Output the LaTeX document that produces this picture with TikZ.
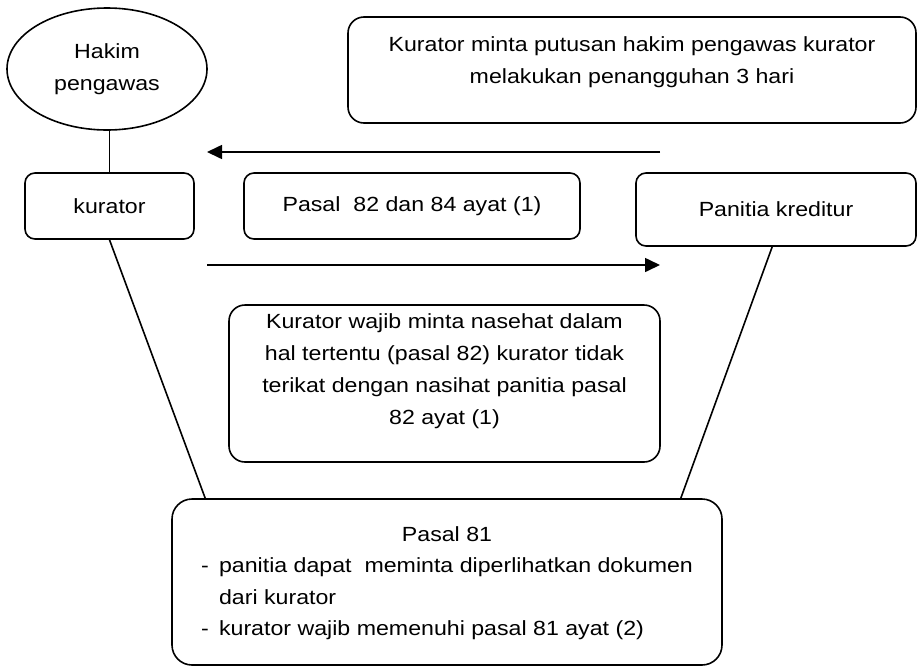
\documentclass[tikz,border=0pt]{standalone}
\usepackage{fontspec}
\setmainfont{Liberation Sans}[FakeStretch=1.13]
\usetikzlibrary{shapes.geometric,arrows.meta,calc}
\begin{document}
\begin{tikzpicture}[x=1pt,y=-1pt, line width=1.6pt,
  every node/.style={font=\fontsize{20.5pt}{32pt}\selectfont},
  rbox/.style={draw, rounded corners=10pt, inner sep=0pt, align=center},
  arr/.style={-{Triangle[length=15pt,width=14pt]}}]
\useasboundingbox (0,0) rectangle (917,667);
\node[draw, ellipse, minimum width=200pt, minimum height=122pt, inner sep=0pt, align=center] (hakim) at (107,69) {Hakim\\pengawas};
\node[rbox, minimum width=169pt, minimum height=66pt] (kurator) at (109.5,206) {kurator};
\node[rbox, minimum width=336pt, minimum height=66pt] (pasal) at (412,206) {Pasal\ \ 82 dan 84 ayat (1)};
\node[rbox, minimum width=280pt, minimum height=73pt] (panitia) at (776,209.5) {Panitia kreditur};
\node[rbox, rounded corners=16pt, minimum width=568pt, minimum height=106pt, text depth=19pt] (top) at (632,70) {Kurator minta putusan hakim pengawas kurator\\melakukan penangguhan 3 hari};
\node[rbox, rounded corners=16pt, minimum width=431pt, minimum height=157pt, text depth=28pt] (mid) at (444.5,383.5) {Kurator wajib minta nasehat dalam\\hal tertentu (pasal 82) kurator tidak\\terikat dengan nasihat panitia pasal\\82 ayat (1)};
\node[rbox, rounded corners=20pt, minimum width=550pt, minimum height=166pt, font=\fontsize{20.5pt}{31.5pt}\selectfont] (bot) at (447,582) {\begin{tabular}[b]{@{}p{18pt}@{}l@{}}\multicolumn{2}{c}{Pasal 81}\\-&panitia dapat\ \ meminta diperlihatkan dokumen\\&dari kurator\\-&kurator wajib memenuhi pasal 81 ayat (2)\end{tabular}};
\coordinate (u1) at (660,152);
\coordinate (u2) at (207,152);
\draw[arr] (u1) -- (u2);
\coordinate (l1) at (207,265);
\coordinate (l2) at (660,265);
\draw[arr] (l1) -- (l2);
\draw (kurator.north) -- (kurator.north |- hakim.south);
\draw (kurator.south) -- ($(bot.north west)+(34,0)$);
\draw ($(panitia.south west)+(137,0)$) -- ($(bot.north east)+(-42,0)$);
\end{tikzpicture}
\end{document}
